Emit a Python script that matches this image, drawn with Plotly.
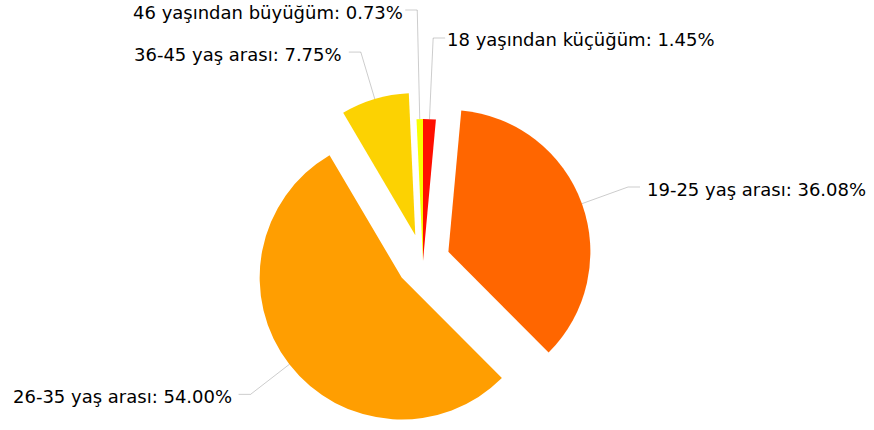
import math
import plotly.graph_objects as go

# ---- data ----
categories = ["18 yaşından küçüğüm", "19-25 yaş arası", "26-35 yaş arası",
              "36-45 yaş arası", "46 yaşından büyüğüm"]
shares = [1.45, 36.08, 54.00, 7.75, 0.73]

# ---- style ----
colors = ["#FF0F00", "#FF6600", "#FF9E01", "#FCD202", "#F8FF01"]
pulls = [0, 0.19, 0.19, 0.19, 0]
W, H = 874, 430
CX, CY = 423, 261          # pie centre in px
R_OUT = 142 * 1.19         # half-size of pie box (radius * (1 + max pull))
TICK_LEN = 49
HORIZ_LEN = 12
GAP = 7
# small slices: label rows (px from top) and text gap
label_override = {0: (38, 2), 4: (10, 2)}
FONT = dict(family="Verdana, DejaVu Sans, sans-serif", size=18, color="#000000")

dom_x = [(CX - R_OUT) / W, (CX + R_OUT) / W]
dom_y = [max(0, (H - CY - R_OUT) / H), (H - CY + R_OUT) / H]

fig = go.Figure(go.Pie(
    labels=categories, values=shares, sort=False, direction="clockwise",
    rotation=0, pull=pulls, marker=dict(colors=colors, line=dict(width=0)),
    textinfo="none", hovertemplate="%{label}: %{value:.2f}%<extra></extra>",
    domain=dict(x=dom_x, y=dom_y), showlegend=False,
))

# leader lines and labels, geometry derived from the values
r = R_OUT / (1 + max(pulls))
total = sum(shares)
cum = 0.0
shapes, annotations = [], []
px = lambda x: x / W
py = lambda y: 1 - y / H
for i, (lab, v) in enumerate(zip(categories, shares)):
    mid = (cum + v / 2) / total * 2 * math.pi
    cum += v
    ux, uy = math.sin(mid), -math.cos(mid)
    ax, ay = CX + pulls[i] * r * ux, CY + pulls[i] * r * uy
    ex, ey = ax + r * ux, ay + r * uy
    gap = GAP
    if i in label_override:
        ly, gap = label_override[i]
        t = (ey - ly) / max(1e-6, -uy)
        bx, by = ex + t * ux, ly
    else:
        bx, by = ex + TICK_LEN * ux, ey + TICK_LEN * uy
    side = 1 if ux > 0 else -1
    hx = bx + side * HORIZ_LEN
    for (x0, y0, x1, y1) in [(ex, ey, bx, by), (bx, by, hx, by)]:
        shapes.append(dict(type="line", xref="paper", yref="paper",
                           x0=px(x0), y0=py(y0), x1=px(x1), y1=py(y1),
                           line=dict(color="rgba(0,0,0,0.2)", width=1)))
    annotations.append(dict(
        x=px(hx + side * gap), y=py(by + 2), xref="paper", yref="paper",
        text=f"{lab}: {v:.2f}%", showarrow=False, borderpad=0, borderwidth=0,
        xanchor="left" if side > 0 else "right", yanchor="middle", font=FONT))

fig.update_layout(
    width=W, height=H, margin=dict(l=0, r=0, t=0, b=0),
    paper_bgcolor="white", plot_bgcolor="white",
    shapes=shapes, annotations=annotations,
)
fig.write_html("out.html", config={"displayModeBar": False},
               post_script="document.body.style.margin='0';")
